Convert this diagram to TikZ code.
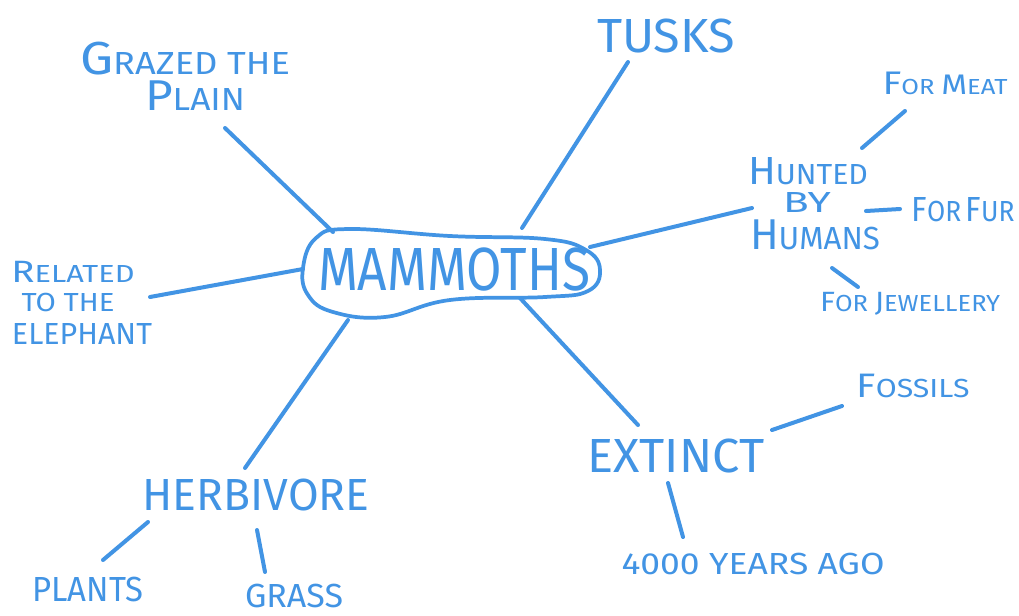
\documentclass[tikz,border=0pt]{standalone}
\usepackage{fontspec}
\usepackage{graphicx}
\setmainfont{Fira Sans}
\definecolor{mapblue}{RGB}{66,148,228}
\newcommand\fitto[2]{\setbox0\hbox{#2}\pgfmathsetmacro\sfac{#1*0.75/\the\wd0}\scalebox{\sfac}[1]{\box0}}
\newcommand\lbl[3]{\pgfmathsetmacro\fsz{#1*0.75/0.689}\fontsize{\fsz pt}{\fsz pt}\selectfont\fitto{#2}{#3}}
\newcommand\BC[2][1.35]{\scalebox{#1}{#2}}
\tikzset{
  lab/.style={text=mapblue, anchor=base, inner sep=0pt},
  link/.style={draw=mapblue, line width=3pt, line cap=round},
}
\begin{document}
\begin{tikzpicture}[x=0.75pt,y=-0.75pt]
\useasboundingbox[fill=white] (0,0) rectangle (1019,615);
% central blob
\draw[link, line width=2.8pt] plot[smooth cycle, tension=0.7] coordinates {
 (303,268) (316,238) (350,229) (450,236) (545,239) (586,250) (600,270)
 (588,291) (545,297) (450,300) (385,317) (333,312) (308,295)};
\node[lab] (mammoths) at (454,290) {\lbl{42}{272}{MAMMOTHS}};
% labels
\node[lab] (grazedA) at (185,74) {\lbl{22}{210}{\BC[1.45]{G}RAZED THE}};
\node[lab] (grazedB) at (195,110) {\lbl{22}{100}{\BC{P}LAIN}};
\node[lab] (tusks) at (666,52) {\lbl{33}{138}{TUSKS}};
\node[lab] (huntedA) at (808,184) {\lbl{20}{120}{\BC{H}UNTED}};
\node[lab] (huntedB) at (807,212) {\lbl{20}{48}{BY}};
\node[lab] (huntedC) at (815,249) {\lbl{22}{130}{\BC{H}UMANS}};
\node[lab] (meat) at (945,94) {\lbl{15}{125}{\BC[1.5]{F}OR \BC[1.3]{M}EAT}};
\node[lab] (fur) at (963,221) {\lbl{20}{103}{\BC[1.2]{F}OR\,\BC[1.2]{F}UR}};
\node[lab] (jewel) at (910,311) {\lbl{16}{180}{\BC[1.2]{F}OR \BC[1.2]{J}EWELLERY}};
\node[lab] (relA) at (73,282) {\lbl{17}{123}{\BC[1.25]{R}ELATED}};
\node[lab] (relB) at (68,311) {\lbl{18}{93}{TO THE}};
\node[lab] (relC) at (82,344) {\lbl{21}{140}{ELEPHANT}};
\node[lab] (herb) at (256,510) {\lbl{31}{227}{HERBIVORE}};
\node[lab] (plants) at (88,601) {\lbl{24}{111}{PLANTS}};
\node[lab] (grass) at (294,607) {\lbl{23}{98}{GRASS}};
\node[lab] (extinct) at (676,472) {\lbl{33}{177}{EXTINCT}};
\node[lab] (fossils) at (913,397) {\lbl{18}{113}{\BC[1.3]{F}OSSILS}};
\node[lab] (ago) at (753,574) {\lbl{21}{263}{4000 YEARS AGO}};
% connector end points
\coordinate (g1) at (225,128); \coordinate (g2) at (333,232);
\coordinate (t1) at (628,62);  \coordinate (t2) at (522,228);
\coordinate (h1) at (590,247); \coordinate (h2) at (752,208);
\coordinate (r1) at (150,297); \coordinate (r2) at (303,269);
\coordinate (v1) at (348,320); \coordinate (v2) at (245,468);
\coordinate (e1) at (520,298); \coordinate (e2) at (638,425);
\coordinate (m1) at (862,148); \coordinate (m2) at (905,111);
\coordinate (f1) at (866,211); \coordinate (f2) at (900,209);
\coordinate (j1) at (832,268); \coordinate (j2) at (858,287);
\coordinate (s1) at (772,430); \coordinate (s2) at (842,406);
\coordinate (a1) at (668,483); \coordinate (a2) at (683,537);
\coordinate (p1) at (148,522); \coordinate (p2) at (103,560);
\coordinate (q1) at (257,530); \coordinate (q2) at (265,572);
\draw[link] (g1) -- (g2);
\draw[link] (t1) -- (t2);
\draw[link] (h1) -- (h2);
\draw[link] (r1) -- (r2);
\draw[link] (v1) -- (v2);
\draw[link] (e1) -- (e2);
\draw[link] (m1) -- (m2);
\draw[link] (f1) -- (f2);
\draw[link] (j1) -- (j2);
\draw[link] (s1) -- (s2);
\draw[link] (a1) -- (a2);
\draw[link] (p1) -- (p2);
\draw[link] (q1) -- (q2);
\end{tikzpicture}
\end{document}
